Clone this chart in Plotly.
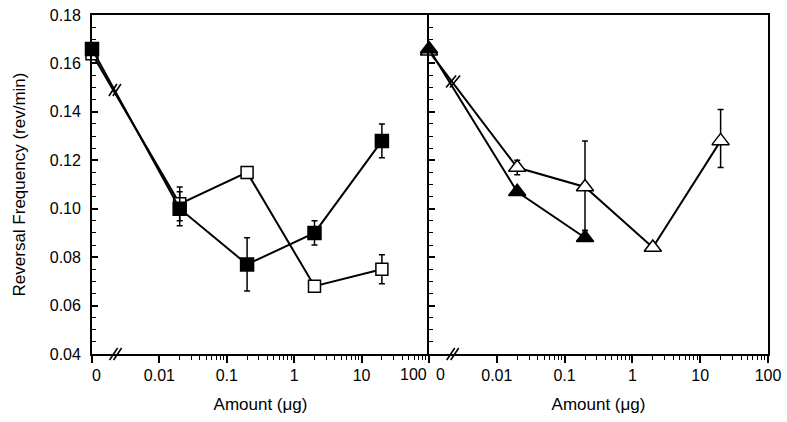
import plotly.graph_objects as go

# ---- data ----
zero_pos = 0.001  # position where the "0" dose is plotted (axis break)
doses = [zero_pos, 0.02, 0.2, 2, 20]
doses_tri_filled = [zero_pos, 0.02, 0.2]

filled_sq = [0.166, 0.100, 0.077, 0.090, 0.128]
filled_sq_err_up = [0, 0.007, 0.011, 0.005, 0.007]
filled_sq_err_dn = [0, 0.007, 0.011, 0.005, 0.007]

open_sq = [0.164, 0.102, 0.115, 0.068, 0.075]
open_sq_err_up = [0, 0.007, 0, 0.0015, 0.006]
open_sq_err_dn = [0, 0.007, 0, 0.0015, 0.006]

filled_tri = [0.166, 0.107, 0.088]
filled_tri_err_up = [0, 0.001, 0.003]
filled_tri_err_dn = [0, 0.001, 0.001]

open_tri = [0.165, 0.117, 0.109, 0.084, 0.128]
open_tri_err_up = [0, 0.003, 0.019, 0.001, 0.013]
open_tri_err_dn = [0, 0.003, 0.018, 0.001, 0.011]

NB = "\u00a0"
tick_vals = [0.001, 0.01, 0.1, 1, 10, 100]
tick_text_left = [NB * 2 + "0", "0.01", "0.1", "1", "10", ""]
tick_text_right = ["", "0.01", "0.1", "1", "10", "100"]
minor_vals = [m * d for d in [0.01, 0.1, 1, 10] for m in range(2, 10)]

FONT = "Liberation Sans, Arial, Helvetica, sans-serif"

fig = go.Figure()


def add(x, y, up, dn, symbol, fill, xa, ya, size):
    fig.add_trace(go.Scatter(
        x=x, y=y, mode="lines+markers", xaxis=xa, yaxis=ya,
        line=dict(color="black", width=2),
        marker=dict(symbol=symbol, size=size, color=fill,
                    line=dict(color="black", width=1.5)),
        error_y=dict(type="data", array=up, arrayminus=dn, color="black",
                     thickness=1.5, width=3, visible=True),
        showlegend=False, cliponaxis=False))


add(doses, open_sq, open_sq_err_up, open_sq_err_dn, "square", "white", "x", "y", 12)
add(doses, filled_sq, filled_sq_err_up, filled_sq_err_dn, "square", "black", "x", "y", 13)
add(doses, open_tri, open_tri_err_up, open_tri_err_dn, "triangle-up", "white", "x2", "y2", 15)
add(doses_tri_filled, filled_tri, filled_tri_err_up, filled_tri_err_dn, "triangle-up", "black", "x2", "y2", 15)

LABEL_STANDOFF = -1


def xaxis(ticktext, domain, anchor):
    return dict(
        domain=domain, anchor=anchor, automargin=False,
        type="log", range=[-3, 2], tickmode="array", tickvals=tick_vals, ticktext=ticktext,
        ticks="outside", ticklen=7, tickwidth=1.5, tickcolor="black",
        ticklabelstandoff=LABEL_STANDOFF,
        minor=dict(tickmode="array", tickvals=minor_vals, ticks="outside", ticklen=4,
                   tickwidth=1.2, tickcolor="black"),
        showline=True, linecolor="black", linewidth=1.8, mirror=True,
        showgrid=False, zeroline=False,
        tickfont=dict(family=FONT, size=16, color="black"),
        title=dict(text="Amount (μg)", font=dict(family=FONT, size=17, color="black"), standoff=15),
    )


common_y = dict(
    range=[0.04, 0.18], tickmode="linear", tick0=0.04, dtick=0.02, tickformat=".2f",
    ticks="inside", ticklen=6, tickwidth=1.5, tickcolor="black",
    minor=dict(dtick=0.005, ticks="inside", ticklen=4, tickwidth=1.2, tickcolor="black"),
    showline=True, linecolor="black", linewidth=1.8, automargin=False,
    showgrid=False, zeroline=False,
)

split = 337 / 676
fig.update_layout(
    template="none",
    width=787, height=422,
    margin=dict(l=92, r=19, t=15, b=68, autoexpand=False),
    paper_bgcolor="white", plot_bgcolor="white",
    font=dict(family=FONT, size=16, color="black"),
    xaxis=xaxis(tick_text_left, [0, split], "y"),
    xaxis2=xaxis(tick_text_right, [split, 1], "y2"),
    yaxis=dict(domain=[0, 1], anchor="x", showticklabels=True, mirror=False,
               ticklabelstandoff=6,
               tickfont=dict(family=FONT, size=16, color="black"),
               title=dict(text="Reversal Frequency (rev/min)",
                          font=dict(family=FONT, size=17, color="black"), standoff=20),
               **common_y),
    yaxis2=dict(domain=[0, 1], anchor="x2", matches="y", showticklabels=False,
                mirror=True, **common_y),
)

# the two crowded labels at the panel junction ("100" of the left panel, "0" of the right)
fig.add_annotation(text="100", xref="x domain", yref="y domain", x=1, y=0,
                   xanchor="center", yanchor="middle", xshift=-16, yshift=-20,
                   showarrow=False, font=dict(family=FONT, size=16, color="black"))
fig.add_annotation(text="0", xref="x2 domain", yref="y2 domain", x=0, y=0,
                   xanchor="center", yanchor="middle", xshift=11, yshift=-20,
                   showarrow=False, font=dict(family=FONT, size=16, color="black"))

# break marks "//" on x axes and on the lines between 0 and 0.02
break_frac = 0.07
shapes = []


def brk(xref, yref, xanchor, yanchor, half_h=6, half_w=4):
    for dx in (-2, 2):
        shapes.append(dict(type="line", xref=xref, yref=yref,
                           xsizemode="pixel", ysizemode="pixel",
                           xanchor=xanchor, yanchor=yanchor,
                           x0=dx - half_w, x1=dx + half_w, y0=-half_h, y1=half_h,
                           line=dict(color="black", width=1.6), layer="above"))


brk("x domain", "y domain", break_frac, 0)
brk("x2 domain", "y2 domain", break_frac, 0)
brk("x domain", "y", 0.068, 0.149)
brk("x2 domain", "y2", 0.071, 0.1525, half_h=6, half_w=5)
fig.update_layout(shapes=shapes)

fig.write_html("out.html", config={"displayModeBar": False},
               post_script="document.body.style.margin='0px';")
